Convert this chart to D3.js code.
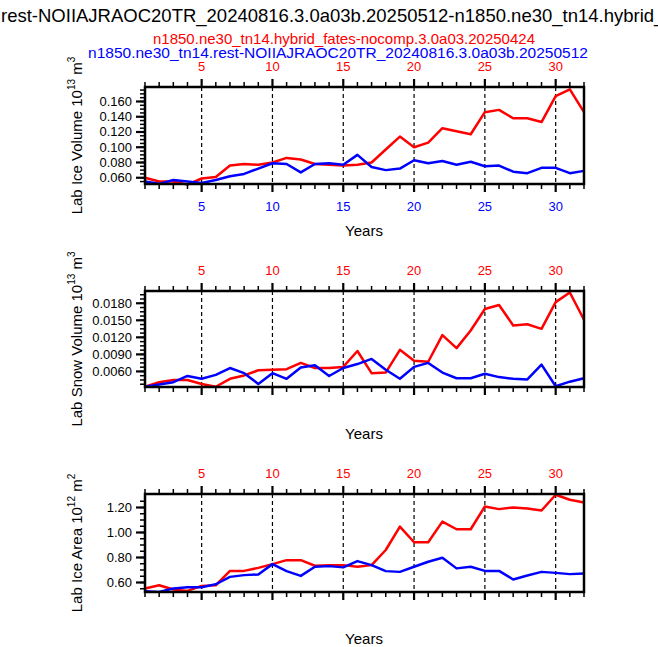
<!DOCTYPE html>
<html><head><meta charset="utf-8">
<script src="https://cdn.jsdelivr.net/npm/d3@7.9.0/dist/d3.min.js"></script>
<style>body{margin:0;background:#fff}svg{font-family:"Liberation Sans",Arial,sans-serif}</style>
</head><body><svg id="chart" width="658" height="647"></svg>
<script>
const years = d3.range(1, 33);
const iceVolRed = [0.060,0.055,0.055,0.051,0.059,0.061,0.076,0.078,0.077,0.080,0.086,0.084,0.078,0.077,0.076,0.077,0.080,0.097,0.114,0.100,0.106,0.125,0.121,0.117,0.146,0.149,0.138,0.138,0.133,0.167,0.176,0.146];
const iceVolBlue = [0.055,0.052,0.057,0.055,0.053,0.057,0.062,0.065,0.072,0.079,0.078,0.067,0.078,0.079,0.077,0.090,0.074,0.070,0.072,0.083,0.079,0.082,0.077,0.081,0.075,0.076,0.068,0.066,0.073,0.073,0.066,0.069];
const snowVolRed = [0.0033,0.0041,0.0045,0.0045,0.0038,0.0033,0.0047,0.0053,0.0062,0.0063,0.0064,0.0075,0.0066,0.0066,0.0068,0.0096,0.0057,0.0058,0.0098,0.0079,0.0077,0.0124,0.0101,0.0132,0.0170,0.0177,0.0141,0.0143,0.0135,0.0182,0.0199,0.0151];
const snowVolBlue = [0.0033,0.0037,0.0041,0.0052,0.0047,0.0054,0.0066,0.0057,0.0038,0.0057,0.0047,0.0067,0.0071,0.0052,0.0066,0.0073,0.0082,0.0063,0.0047,0.0068,0.0075,0.0058,0.0048,0.0048,0.0056,0.0050,0.0047,0.0046,0.0072,0.0034,0.0042,0.0048];
const iceAreaRed = [0.552,0.578,0.544,0.533,0.573,0.578,0.693,0.693,0.717,0.747,0.779,0.779,0.734,0.739,0.739,0.726,0.739,0.860,1.047,0.922,0.922,1.087,1.026,1.026,1.208,1.187,1.200,1.192,1.176,1.302,1.262,1.240];
const iceAreaBlue = [0.53,0.525,0.552,0.562,0.562,0.586,0.645,0.659,0.664,0.747,0.691,0.653,0.726,0.731,0.721,0.771,0.739,0.691,0.685,0.726,0.766,0.798,0.713,0.726,0.693,0.693,0.624,0.656,0.685,0.677,0.667,0.672];
const majorYears = [5,10,15,20,25,30];

const titlePrefix = "n1850.ne30_tn14.";
const title = "n1850.ne30_tn14.rest-NOIIAJRAOC20TR_20240816.3.0a03b.20250512-n1850.ne30_tn14.hybrid_fates-nocomp.3.0a03.20250424";
const redName = "n1850.ne30_tn14.hybrid_fates-nocomp.3.0a03.20250424";
const blueName = "n1850.ne30_tn14.rest-NOIIAJRAOC20TR_20240816.3.0a03b.20250512";

const svg = d3.select('#chart');
const x = d3.scaleLinear().domain([1, 32]).range([145, 584]);

// title: wider than the page, "rest-" begins at the left edge as in the original
const probe = svg.append('text').attr('font-size', 18.5).text(titlePrefix);
const prefixW = probe.node().getComputedTextLength();
probe.remove();
svg.append('text').attr('x', -prefixW + 1).attr('y', 22).attr('font-size', 18.5).text(title);
svg.append('text').attr('x', 344).attr('y', 44).attr('text-anchor', 'middle').attr('font-size', 15).attr('fill', 'red').text(redName);
svg.append('text').attr('x', 338).attr('y', 58).attr('text-anchor', 'middle').attr('font-size', 15.5).attr('fill', 'blue').text(blueName);

const panels = [
  {top: 87, bottom: 184, domain: [0.0518, 0.179], ticks: d3.range(0.06, 0.161, 0.02), minor: d3.range(0.055, 0.179, 0.005), fmt: d3.format('.3f'), red: iceVolRed, blue: iceVolBlue, label: 'Lab Ice Volume 10', sup: '13', unit: ' m', unitSup: '3', blueTicks: true},
  {top: 291, bottom: 387, domain: [0.00326, 0.02016], ticks: d3.range(0.006, 0.0181, 0.003), minor: d3.range(0.00375, 0.0201, 0.00075), fmt: d3.format('.4f'), red: snowVolRed, blue: snowVolBlue, label: 'Lab Snow Volume 10', sup: '13', unit: ' m', unitSup: '3', blueTicks: false},
  {top: 494, bottom: 592, domain: [0.524, 1.308], ticks: d3.range(0.6, 1.21, 0.2), minor: d3.range(0.55, 1.30, 0.05), fmt: d3.format('.2f'), red: iceAreaRed, blue: iceAreaBlue, label: 'Lab Ice Area 10', sup: '12', unit: ' m', unitSup: '2', blueTicks: false}
];

panels.forEach(p => {
  const y = d3.scaleLinear().domain(p.domain).range([p.bottom, p.top]);
  const g = svg.append('g');
  // dashed verticals
  g.selectAll('.grid').data(majorYears).enter().append('line')
    .attr('x1', d => x(d)).attr('x2', d => x(d)).attr('y1', p.top).attr('y2', p.bottom)
    .attr('stroke', '#000').attr('stroke-width', 1.2).attr('stroke-dasharray', '4,3');
  const line = d3.line().x((d, i) => x(years[i])).y(d => y(d));
  g.append('path').datum(p.red).attr('d', line).attr('fill', 'none').attr('stroke', 'red').attr('stroke-width', 2.5).attr('stroke-linejoin', 'round');
  g.append('path').datum(p.blue).attr('d', line).attr('fill', 'none').attr('stroke', 'blue').attr('stroke-width', 2.5).attr('stroke-linejoin', 'round');
  // frame
  g.append('rect').attr('x', x(1)).attr('y', p.top).attr('width', x(32) - x(1)).attr('height', p.bottom - p.top)
    .attr('fill', 'none').attr('stroke', '#000').attr('stroke-width', 2.5);
  // x ticks top and bottom
  const yrs = d3.range(1, 33);
  [[p.top, -1], [p.bottom, 1]].forEach(([yy, dir]) => {
    g.selectAll(null).data(yrs).enter().append('line')
      .attr('x1', d => x(d)).attr('x2', d => x(d)).attr('y1', yy)
      .attr('y2', d => yy + dir * (d % 5 === 0 ? 8 : 5))
      .attr('stroke', '#000').attr('stroke-width', d => d % 5 === 0 ? 2.2 : 1.5);
  });
  g.selectAll(null).data(majorYears).enter().append('text')
    .attr('x', d => x(d)).attr('y', p.top - 16).attr('text-anchor', 'middle').attr('font-size', 13).attr('fill', 'red').text(d => d);
  if (p.blueTicks) {
    g.selectAll(null).data(majorYears).enter().append('text')
      .attr('x', d => x(d)).attr('y', p.bottom + 27).attr('text-anchor', 'middle').attr('font-size', 13).attr('fill', 'blue').text(d => d);
  }
  g.append('text').attr('x', 364).attr('y', p.bottom + 52).attr('text-anchor', 'middle').attr('font-size', 15).text('Years');
  // y ticks
  g.selectAll(null).data(p.minor).enter().append('line')
    .attr('x1', x(1)).attr('x2', x(1) - 5).attr('y1', d => y(d)).attr('y2', d => y(d)).attr('stroke', '#000').attr('stroke-width', 1.5);
  g.selectAll(null).data(p.ticks).enter().append('line')
    .attr('x1', x(1)).attr('x2', x(1) - 9).attr('y1', d => y(d)).attr('y2', d => y(d)).attr('stroke', '#000').attr('stroke-width', 2.2);
  g.selectAll(null).data(p.ticks).enter().append('text')
    .attr('x', x(1) - 13).attr('y', d => y(d) + 4.5).attr('text-anchor', 'end').attr('font-size', 13).text(d => p.fmt(d));
  const cy = (p.top + p.bottom) / 2;
  const lab = g.append('text').attr('transform', `translate(82,${cy}) rotate(-90)`).attr('text-anchor', 'middle').attr('font-size', 15);
  lab.append('tspan').text(p.label);
  lab.append('tspan').attr('dy', -7).attr('font-size', 10).text(p.sup);
  lab.append('tspan').attr('dy', 7).text(p.unit);
  lab.append('tspan').attr('dy', -7).attr('font-size', 10).text(p.unitSup);
});
</script></body></html>
